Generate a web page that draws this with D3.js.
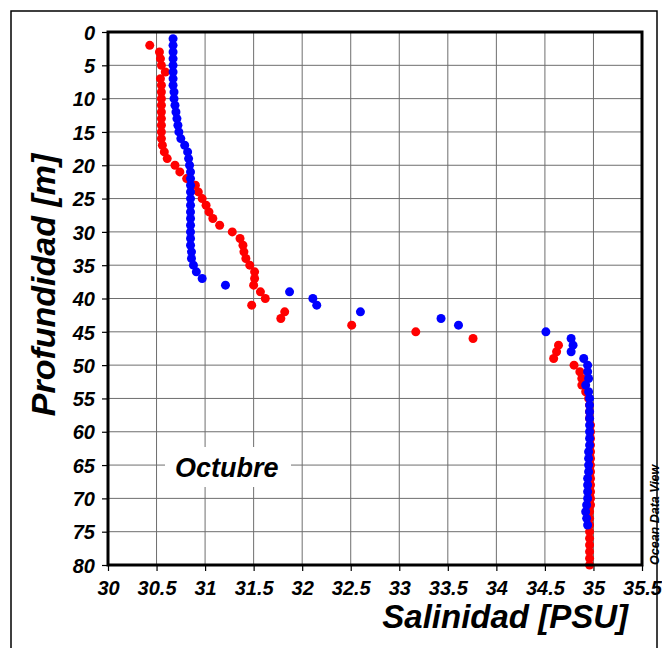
<!DOCTYPE html>
<html>
<head>
<meta charset="utf-8">
<script src="https://cdn.jsdelivr.net/npm/d3@7"></script>
<style>
  body { margin: 0; background: #fff; }
  svg text { font-family: "Liberation Sans", Arial, sans-serif; font-weight: bold; font-style: italic; }
</style>
</head>
<body>
<svg id="chart" width="662" height="648"></svg>
<script>
// depth [m] for each series
const blueDepth = d3.range(1, 75);
const redDepth = d3.range(2, 81);

// salinity values, one per metre
const blueSal = [
  30.67, 30.67, 30.67, 30.67, 30.67, 30.67, 30.67, 30.67, 30.68, 30.68,
  30.69, 30.70, 30.71, 30.72, 30.73, 30.75, 30.79, 30.82, 30.83, 30.84,
  30.85, 30.85, 30.85, 30.85, 30.85, 30.85, 30.85, 30.85, 30.85, 30.85,
  30.85, 30.85, 30.86, 30.86, 30.88, 30.91, 30.97, 31.21, 31.87, 32.11,
  32.15, 32.60, 33.43, 33.61, 34.51, 34.77, 34.79, 34.77, 34.90, 34.94,
  34.94, 34.95, 34.92, 34.95, 34.96, 34.96, 34.96, 34.96, 34.96, 34.96,
  34.96, 34.96, 34.95, 34.95, 34.95, 34.95, 34.94, 34.94, 34.94, 34.94,
  34.93, 34.92, 34.93, 34.94
];
const redSal = [
  30.43, 30.53, 30.54, 30.55, 30.59, 30.54, 30.55, 30.55, 30.55, 30.55,
  30.55, 30.55, 30.55, 30.55, 30.55, 30.56, 30.58, 30.61, 30.69, 30.74,
  30.81, 30.90, 30.93, 30.97, 31.01, 31.04, 31.08, 31.15, 31.28, 31.36,
  31.39, 31.40, 31.42, 31.46, 31.51, 31.51, 31.50, 31.57, 31.62, 31.48,
  31.82, 31.78, 32.51, 33.17, 33.76, 34.64, 34.62, 34.59, 34.80, 34.86,
  34.88, 34.88, 34.92, 34.95, 34.96, 34.96, 34.96, 34.97, 34.97, 34.97,
  34.97, 34.97, 34.97, 34.97, 34.97, 34.97, 34.97, 34.97, 34.97, 34.97,
  34.96, 34.96, 34.96, 34.96, 34.96, 34.96, 34.96, 34.96, 34.96
];

const xTicks = [30, 30.5, 31, 31.5, 32, 32.5, 33, 33.5, 34, 34.5, 35, 35.5];
const yTicks = d3.range(0, 81, 5);

const svg = d3.select("#chart");
const margin = { top: 32, right: 20, bottom: 83, left: 108 };
const width = 642 - margin.left;
const height = 565 - margin.top;

// outer frame round the whole figure
svg.append("rect")
  .attr("x", 11).attr("y", 11)
  .attr("width", 646).attr("height", 640)
  .attr("fill", "none").attr("stroke", "#000").attr("stroke-width", 1.5);

const g = svg.append("g").attr("transform", `translate(${margin.left},${margin.top})`);

const x = d3.scaleLinear().domain([30, 35.5]).range([0, width]);
const y = d3.scaleLinear().domain([0, 80]).range([0, height]);

// grid
g.append("g").selectAll("line").data(xTicks).enter().append("line")
  .attr("x1", d => x(d)).attr("x2", d => x(d))
  .attr("y1", 0).attr("y2", height)
  .attr("stroke", "#6e6e6e").attr("stroke-width", 1);
g.append("g").selectAll("line").data(yTicks).enter().append("line")
  .attr("x1", 0).attr("x2", width)
  .attr("y1", d => y(d)).attr("y2", d => y(d))
  .attr("stroke", "#6e6e6e").attr("stroke-width", 1);

// axes
const xAxis = g.append("g").attr("transform", `translate(0,${height})`)
  .call(d3.axisBottom(x).tickValues(xTicks).tickFormat(d3.format("")).tickSize(6).tickPadding(7));
const yAxis = g.append("g")
  .call(d3.axisLeft(y).tickValues(yTicks).tickSize(6).tickPadding(7));
[xAxis, yAxis].forEach(a => {
  a.select(".domain").remove();
  a.selectAll("line").attr("stroke", "#000").attr("stroke-width", 1.2);
  a.selectAll("text").attr("font-size", 20).attr("fill", "#000")
    .style("font-family", "'Liberation Sans', Arial, sans-serif");
});
xAxis.selectAll("text").attr("dy", "0.85em");
yAxis.selectAll("text").attr("dy", "0.36em");

// points
g.append("g").selectAll("circle").data(redDepth).enter().append("circle")
  .attr("cx", (d, i) => x(redSal[i])).attr("cy", d => y(d))
  .attr("r", 4.5).attr("fill", "#ff0000");
g.append("g").selectAll("circle").data(blueDepth).enter().append("circle")
  .attr("cx", (d, i) => x(blueSal[i])).attr("cy", d => y(d))
  .attr("r", 4.5).attr("fill", "#0000ff");

// plot frame
g.append("rect")
  .attr("width", width).attr("height", height)
  .attr("fill", "none").attr("stroke", "#000").attr("stroke-width", 3);

// month label
g.append("rect").attr("x", 57).attr("y", 415).attr("width", 126).attr("height", 40).attr("fill", "#fff");
g.append("text").attr("x", 67).attr("y", 445).attr("font-size", 27).attr("fill", "#000").text("Octubre");

// axis titles
svg.append("text").attr("x", 628).attr("y", 628).attr("text-anchor", "end")
  .attr("font-size", 33).attr("fill", "#000").text("Salinidad [PSU]");
svg.append("text").attr("transform", "translate(55,285) rotate(-90)").attr("text-anchor", "middle")
  .attr("font-size", 34).attr("fill", "#000").text("Profundidad [m]");

svg.append("text").attr("transform", "translate(659,565) rotate(-90)").attr("text-anchor", "start")
  .attr("font-size", 12.5).attr("fill", "#000").text("Ocean Data View");
</script>
</body>
</html>
